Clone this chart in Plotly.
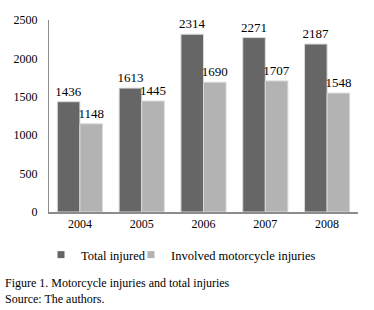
import plotly.graph_objects as go

years = ["2004", "2005", "2006", "2007", "2008"]
total_injured = [1436, 1613, 2314, 2271, 2187]
moto_injuries = [1148, 1445, 1690, 1707, 1548]
series_names = ["Total injured", "Involved motorcycle injuries"]
series_colors = ["#666666", "#b3b3b3"]

FAM = "Liberation Serif, Times New Roman, serif"
font = dict(family=FAM, size=12, color="#000000")

fig = go.Figure()
for vals, name, col in zip([total_injured, moto_injuries], series_names, series_colors):
    fig.add_trace(go.Bar(x=years, y=vals, name=name, showlegend=False,
                         marker=dict(color=col, line=dict(color="#d9d9d9", width=1)),
                         text=[str(v) for v in vals], textposition="outside",
                         constraintext="none",
                         textfont=dict(family=FAM, size=13, color="#000"),
                         cliponaxis=False))

# legend entries (small square swatches)
for i, (name, col) in enumerate(zip(series_names, series_colors)):
    fig.add_trace(go.Scatter(x=[None], y=[None], mode="markers", name=name,
                             marker=dict(symbol="square", size=7, color=col),
                             legend="legend" if i == 0 else "legend2"))

leg_common = dict(orientation="h", xref="container", yref="container",
                  xanchor="left", yanchor="middle", font=dict(family=FAM, size=12.5),
                  itemwidth=30, bgcolor="rgba(0,0,0,0)")

fig.update_layout(
    width=374, height=310,
    margin=dict(l=49, r=16, t=20, b=98, autoexpand=False),
    paper_bgcolor="white", plot_bgcolor="white",
    font=font,
    barmode="group", bargap=0.27, bargroupgap=0,
    legend=dict(x=41 / 374, y=1 - 255 / 310, **leg_common),
    legend2=dict(x=131 / 374, y=1 - 255 / 310, **leg_common),
    xaxis=dict(showline=True, linecolor="#8c8c8c", linewidth=2, ticks="",
               tickfont=dict(size=12), showgrid=False),
    yaxis=dict(range=[0, 2500], dtick=500, showline=True, linecolor="#8c8c8c",
               linewidth=1, ticks="", showgrid=False, zeroline=False,
               tickfont=dict(size=12), ticklabelstandoff=8),
)

fig.add_annotation(text="Figure 1. Motorcycle injuries and total injuries<br>Source: The authors.",
                   xref="paper", yref="paper", x=(3 - 49) / 309, y=(212 - 274) / 192,
                   xanchor="left", yanchor="top",
                   align="left", showarrow=False, font=dict(family=FAM, size=12))

fig.write_html("out.html", config={"displayModeBar": False},
               post_script="document.body.style.margin='0';document.body.style.overflow='hidden';")
